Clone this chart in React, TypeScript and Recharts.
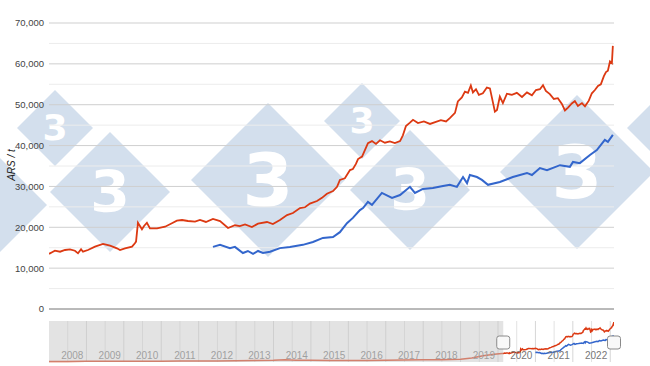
import React from 'react';
import {
  LineChart,
  Line,
  XAxis,
  YAxis,
  CartesianGrid,
  ReferenceLine,
  ReferenceArea
} from 'recharts';

// weekly prices, decimal years
const redDates = [
  2019.140, 2019.156, 2019.171, 2019.198, 2019.224, 2019.250, 2019.276, 2019.292, 2019.308, 2019.318,
  2019.344, 2019.381, 2019.423, 2019.460, 2019.496, 2019.512, 2019.538, 2019.575, 2019.590, 2019.596,
  2019.606, 2019.627, 2019.638, 2019.653, 2019.669, 2019.706, 2019.748, 2019.784, 2019.810, 2019.837,
  2019.868, 2019.905, 2019.931, 2019.962, 2019.999, 2020.036, 2020.078, 2020.114, 2020.140, 2020.167,
  2020.203, 2020.235, 2020.282, 2020.313, 2020.350, 2020.387, 2020.418, 2020.455, 2020.481, 2020.507,
  2020.544, 2020.570, 2020.596, 2020.628, 2020.649, 2020.664, 2020.690, 2020.717, 2020.732, 2020.748,
  2020.759, 2020.780, 2020.795, 2020.811, 2020.832, 2020.853, 2020.874, 2020.900, 2020.926, 2020.952,
  2020.979, 2020.994, 2021.010, 2021.031, 2021.047, 2021.073, 2021.104, 2021.136, 2021.167, 2021.193,
  2021.220, 2021.240, 2021.267, 2021.282, 2021.303, 2021.319, 2021.335, 2021.350, 2021.361, 2021.377,
  2021.392, 2021.413, 2021.434, 2021.450, 2021.466, 2021.476, 2021.487, 2021.502, 2021.518, 2021.539,
  2021.565, 2021.591, 2021.618, 2021.644, 2021.670, 2021.691, 2021.712, 2021.728, 2021.743, 2021.764,
  2021.785, 2021.806, 2021.827, 2021.843, 2021.859, 2021.879, 2021.895, 2021.911, 2021.932, 2021.948,
  2021.968, 2021.984, 2022.000, 2022.016, 2022.031, 2022.047, 2022.058, 2022.068, 2022.079, 2022.089,
  2022.094
];
const redValues = [
  13500, 13900, 14270, 14020, 14440, 14610, 14270, 13630, 14610, 14020,
  14440, 15250, 15910, 15490, 14860, 14440, 14860, 15250, 16080, 16500,
  21120, 19510, 20310, 21120, 19750, 19750, 20140, 20980, 21610, 21780,
  21540, 21370, 21780, 21300, 22030, 21500, 19830, 20500, 20300, 20700,
  20060, 20900, 21290, 20800, 21780, 23000, 23500, 24720, 24900, 25800,
  26430, 27200, 28200, 28880, 29900, 31570, 32000, 34000, 34270, 35500,
  36700, 37300, 38900, 40600, 41100, 40400, 41300, 40700, 41000, 40600,
  41100, 42500, 44800, 45600, 46300, 45500, 45900, 45300, 45800, 46200,
  45900, 46700, 48000, 50800, 51800, 53200, 52900, 54700, 53000, 53800,
  52400, 52800, 54200, 54000, 50500, 48300, 48700, 52000, 50400, 52700,
  52400, 52900, 51900, 53000, 52300, 53600, 53800, 54800, 53400, 52600,
  51400, 51600, 50200, 48600, 49300, 50300, 50900, 49700, 50400, 49600,
  51000, 52800, 53600, 54600, 55000, 57000, 58000, 58300, 60600, 60200,
  64400
];

const blueDates = [
  2019.999, 2020.036, 2020.088, 2020.114, 2020.156, 2020.182, 2020.209, 2020.235, 2020.261, 2020.298,
  2020.350, 2020.402, 2020.470, 2020.523, 2020.575, 2020.628, 2020.664, 2020.701, 2020.732, 2020.769,
  2020.785, 2020.811, 2020.832, 2020.884, 2020.937, 2020.979, 2021.031, 2021.057, 2021.099, 2021.151,
  2021.204, 2021.240, 2021.277, 2021.309, 2021.330, 2021.345, 2021.382, 2021.408, 2021.440, 2021.502,
  2021.570, 2021.644, 2021.670, 2021.712, 2021.749, 2021.817, 2021.869, 2021.885, 2021.921, 2021.974,
  2022.010, 2022.052, 2022.068, 2022.094
];
const blueValues = [
  15200, 15700, 14900, 15200, 13700, 14200, 13500, 14200, 13700, 14000,
  14900, 15200, 15700, 16400, 17400, 17600, 18800, 21000, 22300, 24200,
  24700, 26200, 25500, 28400, 27200, 27900, 29900, 28400, 29400, 29600,
  30100, 30400, 29900, 32300, 30800, 32800, 32300, 31600, 30400, 31100,
  32300, 33300, 32800, 34500, 34000, 35200, 34800, 36000, 35700, 37700,
  38900, 41400, 40900, 42600
];

// older history only visible in the range selector
const historyDates = [
  2007.0, 2007.5, 2008.0, 2008.5, 2009.0, 2009.5, 2010.0, 2010.5, 2011.0, 2011.5,
  2012.0, 2012.5, 2013.0, 2013.3, 2013.6, 2014.0, 2014.5, 2015.0, 2015.5, 2016.0,
  2016.5, 2017.0, 2017.5, 2018.0, 2018.3, 2018.6, 2018.9, 2019.1
];
const historyValues = [
  900, 1000, 1100, 1300, 1100, 1300, 1400, 1500, 1700, 1800,
  2000, 2300, 2800, 3600, 3000, 2700, 2500, 2400, 2300, 2700,
  3200, 3500, 3700, 4500, 6500, 10000, 12500, 13500
];

const yTicks = [0, 10000, 20000, 30000, 40000, 50000, 60000, 70000];
const yMinor = [5000, 15000, 25000, 35000, 45000, 55000, 65000];
const navYears = [2008, 2009, 2010, 2011, 2012, 2013, 2014, 2015, 2016, 2017, 2018, 2019, 2020, 2021, 2022];
const navHalfYears = [2007.5, 2008.5, 2009.5, 2010.5, 2011.5, 2012.5, 2013.5, 2014.5, 2015.5, 2016.5, 2017.5, 2018.5, 2019.5, 2020.5, 2021.5];

const navStart = 2007.0;
const viewStart = 2019.14;
const viewEnd = 2022.1;

const RED = '#dc3912';
const BLUE = '#3366cc';
const FONT = "'Liberation Sans', Arial, sans-serif";

const toPoints = (dates: number[], values: number[]) => dates.map((t, i) => ({ t, v: values[i] }));

const redData = toPoints(redDates, redValues);
const blueData = toPoints(blueDates, blueValues);
const navRedData = toPoints(historyDates, historyValues).concat(redData);

// 333 watermark behind the plot
const marks = [
  { cx: -30, cy: 205, r: 77 },
  { cx: 55, cy: 128, r: 38 },
  { cx: 110, cy: 192, r: 60 },
  { cx: 268, cy: 180, r: 77 },
  { cx: 362, cy: 121, r: 38 },
  { cx: 410, cy: 190, r: 60 },
  { cx: 577, cy: 172, r: 77 },
  { cx: 665, cy: 128, r: 38 }
];

const Watermark = () => (
  <svg width={650} height={316} style={{ position: 'absolute', left: 0, top: 0 }}>
    {marks.map((m, i) => (
      <g key={i}>
        <polygon
          points={`${m.cx},${m.cy - m.r} ${m.cx + m.r},${m.cy} ${m.cx},${m.cy + m.r} ${m.cx - m.r},${m.cy}`}
          fill="#d3dfed"
        />
        {m.cx > 0 && m.cx < 650 && (
          <text
            x={m.cx}
            y={m.cy}
            textAnchor="middle"
            dominantBaseline="central"
            fontFamily="'DejaVu Sans', sans-serif"
            fontWeight="bold"
            fontSize={m.r * 0.95}
            fill="#ffffff"
          >
            3
          </text>
        )}
      </g>
    ))}
    <text
      x={11}
      y={165}
      transform="rotate(-90 11 165)"
      textAnchor="middle"
      dominantBaseline="central"
      fontFamily={FONT}
      fontStyle="italic"
      fontSize={10}
      fill="#222"
    >
      ARS / t
    </text>
  </svg>
);

const Handles = (props: any) => {
  const { x, y, width, height } = props;
  const cy = y + height / 2 + 1;
  const box = (cx: number, key: string) => (
    <rect key={key} x={cx - 6.5} y={cy - 6.5} width={13} height={13} rx={2.5} fill="#f8f8f8" stroke="#8a8a8a" />
  );
  return <g>{box(x, 'l')}{box(x + width, 'r')}</g>;
};

export default function App() {
  return (
    <div style={{ position: 'absolute', left: 0, top: 0, width: 650, height: 366, background: '#fff', overflow: 'hidden' }}>
      <Watermark />
      <div style={{ position: 'absolute', left: 0, top: 0 }}>
        <LineChart width={650} height={316} margin={{ top: 23, right: 36, left: 0, bottom: 7 }}>
          <CartesianGrid vertical={false} stroke="#cfcfcf" />
          {yMinor.map(v => (
            <ReferenceLine key={v} y={v} stroke="#ececec" />
          ))}
          <ReferenceLine y={0} stroke="#8c8c8c" />
          <XAxis dataKey="t" type="number" domain={[viewStart, viewEnd]} hide allowDataOverflow />
          <YAxis
            width={49}
            domain={[0, 70000]}
            ticks={yTicks}
            tickSize={3}
            tickMargin={2}
            axisLine={false}
            tickLine={false}
            tick={{ fontSize: 9.5, fill: '#444', fontFamily: FONT }}
            tickFormatter={(v: number) => v.toLocaleString('en-US')}
          />
          <Line data={redData} dataKey="v" stroke={RED} strokeWidth={1.8} dot={false} isAnimationActive={false} />
          <Line data={blueData} dataKey="v" stroke={BLUE} strokeWidth={2} dot={false} isAnimationActive={false} />
        </LineChart>
      </div>
      <div style={{ position: 'absolute', left: 0, top: 315 }}>
        <LineChart width={650} height={51} margin={{ top: 6, right: 36, left: 49, bottom: 4 }}>
          <XAxis dataKey="t" type="number" domain={[navStart, viewEnd]} hide allowDataOverflow />
          <YAxis domain={[0, 66000]} hide />
          {navHalfYears.map(v => (
            <ReferenceLine key={v} x={v} stroke="#e2e2e2" />
          ))}
          {navYears.map(v => (
            <ReferenceLine
              key={v}
              x={v}
              stroke="#d6d6d6"
              label={{ value: String(v), position: 'insideBottomRight', offset: 3, fill: '#777', fontSize: 10, fontFamily: FONT }}
            />
          ))}
          <Line data={navRedData} dataKey="v" stroke={RED} strokeWidth={1.5} dot={false} isAnimationActive={false} />
          <Line data={blueData} dataKey="v" stroke={BLUE} strokeWidth={1.5} dot={false} isAnimationActive={false} />
          <ReferenceArea x1={navStart} x2={viewStart} fill="#c8c8c8" fillOpacity={0.5} stroke="none" zIndex={3000} />
          <ReferenceArea x1={viewStart} x2={viewEnd} shape={<Handles />} zIndex={3100} />
        </LineChart>
      </div>
    </div>
  );
}
